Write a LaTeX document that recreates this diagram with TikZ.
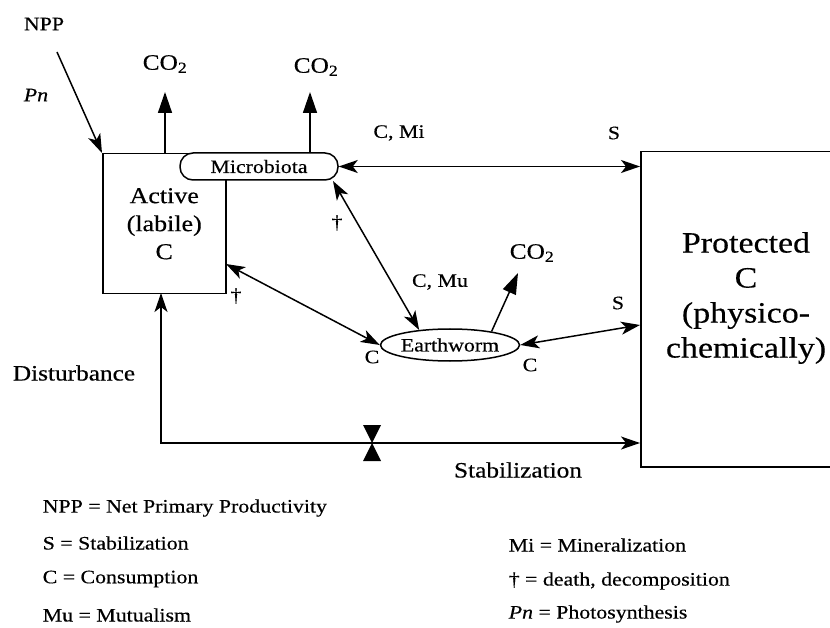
\documentclass[tikz,border=0pt]{standalone}
\usepackage{fontspec}
\setmainfont{Liberation Serif}[FakeStretch=1.15,FakeBold=0.4]
\usetikzlibrary{arrows.meta,shapes.geometric,calc}
\begin{document}
\begin{tikzpicture}[x=1pt,y=-1pt,
  line width=1.5pt,
  lab/.style={font=\fontsize{19}{22}\selectfont, inner sep=0pt},
  gaslab/.style={font=\fontsize{22}{24}\selectfont, inner sep=0pt},
  big/.style={font=\fontsize{22}{26}\selectfont, inner sep=0pt},
  leg/.style={font=\fontsize{19}{22}\selectfont, inner sep=0pt, anchor=west},
  flow/.style={-{Stealth[length=19pt,width=13pt,inset=5pt]}},
  flowtwo/.style={{Stealth[length=19pt,width=13pt,inset=5pt]}-{Stealth[length=19pt,width=13pt,inset=5pt]}},
  gas/.style={-{Triangle[length=21pt,width=14pt]}},
]
\useasboundingbox (0,0) rectangle (830,628);

% boxes
\node[draw, minimum width=123pt, minimum height=140pt, inner sep=0pt, anchor=north west,
      align=center, font=\fontsize{22.6}{28}\selectfont] (act) at (102,153) {Active\\(labile)\\C};
\node[draw, fill=white, rounded corners=13pt, minimum width=158pt, minimum height=27pt, lab] (mic) at (259,166.5) {Microbiota};
\node[draw, minimum width=200pt, minimum height=315pt, inner sep=0pt, anchor=north west] (prot) at (640,151) {};
\node[align=center, font=\fontsize{29.5}{35}\selectfont, inner sep=0pt] (ptxt) at (746,298) {Protected\\C\\(physico-\\chemically)};
\node[draw, ellipse, fill=white, minimum width=126pt, minimum height=32pt, inner sep=0pt, lab] (ew) at (450,345) {Earthworm};

% free labels
\node[lab] (npp) at (44,24) {NPP};
\node[lab] (pn) at (36,95) {\itshape Pn};
\node[gaslab] (co2a) at (165,64) {CO\textsubscript{2}};
\node[gaslab] (co2b) at (316,67) {CO\textsubscript{2}};
\node[gaslab] (co2c) at (532,253) {CO\textsubscript{2}};
\node[lab] (lcmi) at (399,133) {C, Mi};
\node[lab] (ls1) at (614,133) {S};
\node[lab] (ld1) at (337,223) {†};
\node[lab] (lcmu) at (440,282) {C, Mu};
\node[lab] (ld2) at (236,296) {†};
\node[lab] (lc1) at (372,357) {C};
\node[lab] (ls2) at (618,303) {S};
\node[lab] (lc2) at (530,365) {C};
\node[big] (dist) at (74,373) {Disturbance};
\node[big] (stab) at (518,470) {Stabilization};

% coordinates
\coordinate (nppS) at (57,52);
\coordinate (g1s) at (165,153);
\coordinate (g1t) at (165,92);
\coordinate (g2s) at (310,153);
\coordinate (g2t) at (310,92);
\coordinate (g3t) at (518,273);
\coordinate (mse) at (333,181);
\coordinate (ae) at (226,264);
\coordinate (pw2) at (640,325);
\coordinate (ab) at (161,293);
\coordinate (sb) at (640,443);

% connectors
\draw[flow] (nppS) -- (act.north west);
\draw[gas] (g1s) -- (g1t);
\draw[gas] (g2s) -- (g2t);
\draw[flowtwo] (mic.east) -- (mic.east -| prot.west);
\draw[flowtwo] (mse) -- (ew.154);
\draw[flowtwo] (ae) -- (ew.west);
\draw[gas] (ew.18) -- (g3t);
\draw[flowtwo] (ew.east) -- (pw2);
\draw[flowtwo] (ab) |- (sb);

% valve
\fill (363,425) -- (381,425) -- (372,443) -- cycle;
\fill (363,461) -- (381,461) -- (372,443) -- cycle;

% legend
\node[leg] (l1) at (42,508) {NPP = Net Primary Productivity};
\node[leg] (l2) at (42,543) {S = Stabilization};
\node[leg] (l3) at (42,579) {C = Consumption};
\node[leg] (l4) at (42,615) {Mu = Mutualism};
\node[leg] (l5) at (508,545) {Mi = Mineralization};
\node[leg] (l6) at (508,581) {† = death, decomposition};
\node[leg] (l7) at (508,614) {\itshape Pn\upshape{} = Photosynthesis};
\end{tikzpicture}
\end{document}
